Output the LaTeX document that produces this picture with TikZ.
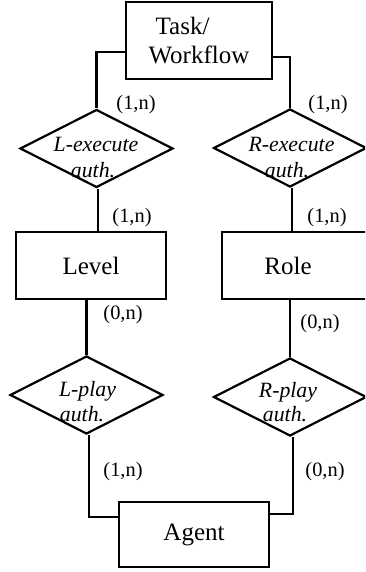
\documentclass[tikz,border=0pt]{standalone}
\usepackage{fontspec}
\setmainfont{Liberation Serif}
\usetikzlibrary{shapes.geometric}
\begin{document}
\begin{tikzpicture}[x=0.5pt,y=-0.5pt, line width=1.1pt,
  entity/.style={draw, rectangle, inner sep=0pt, minimum width=75pt, font=\fontsize{12.5}{14.5}\selectfont},
  enttext/.style={inner sep=0pt, font=\fontsize{12.5}{14.5}\selectfont},
  rel/.style={draw, diamond, inner sep=0pt, minimum width=76.5pt, minimum height=39pt},
  reltext/.style={font=\fontsize{10.9}{13}\selectfont\itshape, anchor=base, inner sep=0pt},
  card/.style={font=\fontsize{10.2}{12}\selectfont, inner sep=0pt}]
\useasboundingbox (0,0) rectangle (365,572);
\clip (0,0) rectangle (365,572);

% entities
\node[entity, minimum width=73pt, minimum height=38.5pt, align=left] (task) at (199,40.5) {\hspace{3.5pt}Task/\\Workflow};
\node[entity, minimum height=33.5pt] (level) at (91,265.5) {Level};
\node[entity, minimum height=33.5pt] (role) at (297,265.5) {};
\node[enttext] (roletext) at (288,265.5) {Role};
\node[entity, minimum height=32.5pt] (agent) at (194,534.5) {Agent};

% relationships
\node[rel] (lexec) at (96.5,148.5) {};
\node[reltext] (lexecA) at (96,151.7) {L-execute};
\node[reltext] (lexecB) at (93,177.7) {auth.};

\node[rel] (rexec) at (290,148) {};
\node[reltext] (rexecA) at (291.5,152) {R-execute};
\node[reltext] (rexecB) at (287,178) {auth.};

\node[rel] (lplay) at (86.5,395) {};
\node[reltext] (lplayA) at (87.5,396.7) {L-play};
\node[reltext] (lplayB) at (82,421.5) {auth.};

\node[rel] (rplay) at (290,397) {};
\node[reltext] (rplayA) at (288,397.5) {R-play};
\node[reltext] (rplayB) at (285,421.5) {auth.};

% connectors
\draw ([yshift=-5.75pt]task.west) -| (lexec.north);
\draw ([yshift=-8.25pt]task.east) -| (rexec.north);
\draw ([xshift=0.75pt]lexec.south) -- ([xshift=0.75pt]lexec.south |- level.north);
\draw ([xshift=1pt]rexec.south) -- ([xshift=1pt]rexec.south |- role.north);
\draw (lplay.north |- level.south) -- (lplay.north);
\draw (rplay.north |- role.south) -- (rplay.north);
\draw ([xshift=1.25pt]lplay.south) |- ([yshift=8.75pt]agent.west);
\draw ([xshift=1.5pt]rplay.south) |- ([yshift=10.25pt]agent.east);

% cardinalities
\node[card] (c1) at (136,105) {(1,n)};
\node[card] (c2) at (328,105) {(1,n)};
\node[card] (c3) at (132,218) {(1,n)};
\node[card] (c4) at (327,218) {(1,n)};
\node[card] (c5) at (123,315) {(0,n)};
\node[card] (c6) at (320,324) {(0,n)};
\node[card] (c7) at (123,472) {(1,n)};
\node[card] (c8) at (325,472) {(0,n)};
\end{tikzpicture}
\end{document}
